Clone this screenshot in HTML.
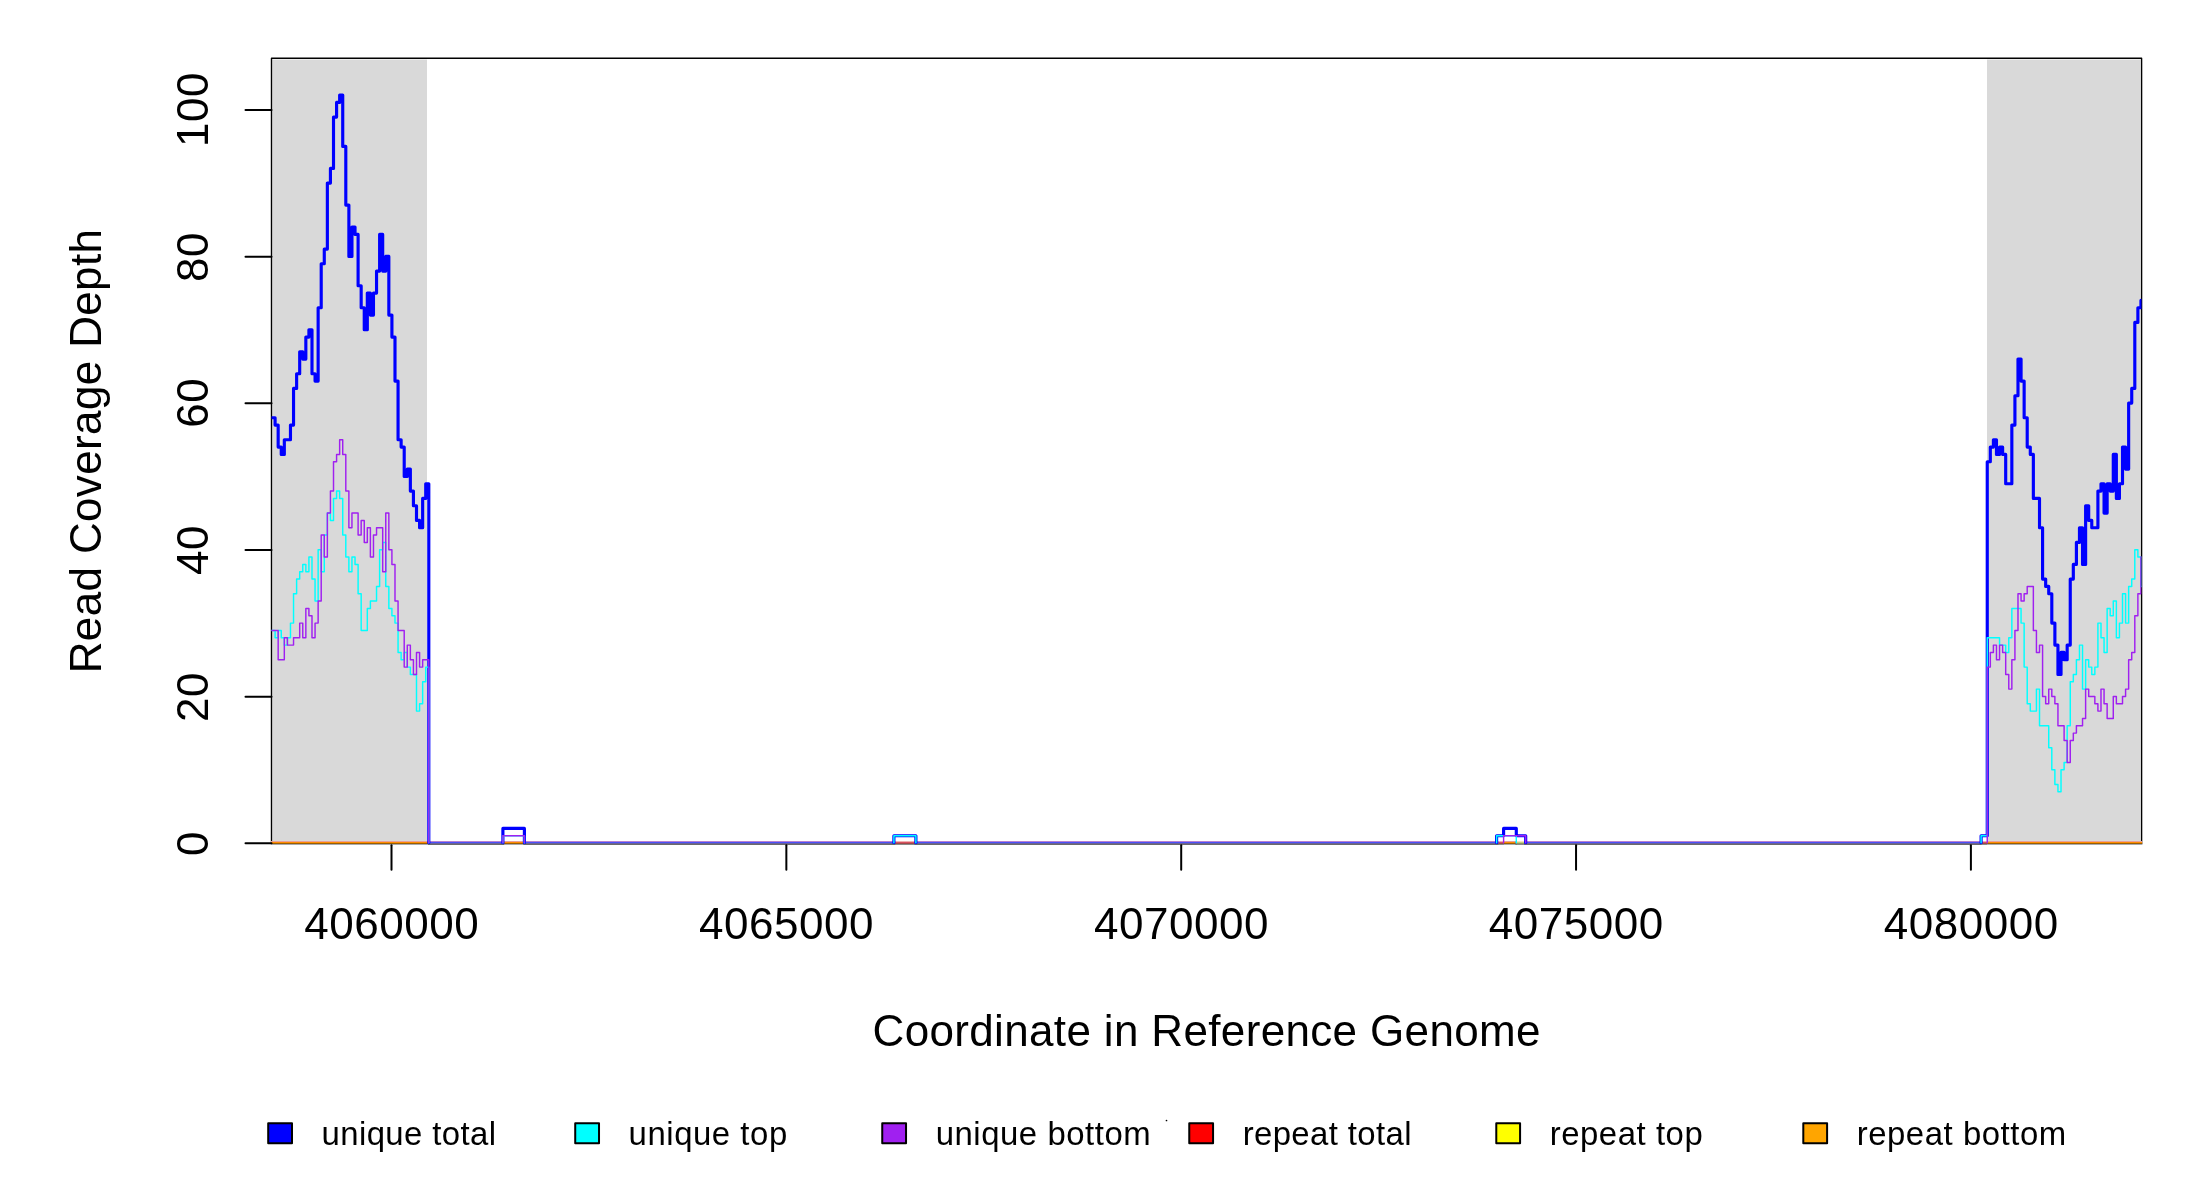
<!DOCTYPE html><html><head><meta charset="utf-8"><style>html,body{margin:0;padding:0;background:#fff;}svg{display:block;}text{font-family:"Liberation Sans",sans-serif;fill:#000;}.t{filter:grayscale(1);}</style></head><body>
<svg width="2200" height="1200" viewBox="0 0 2200 1200">
<rect width="2200" height="1200" fill="#fff"/>
<rect x="272.5" y="59.5" width="154.5" height="781.5" fill="#D9D9D9"/>
<rect x="1987" y="59.5" width="153.5" height="781.5" fill="#D9D9D9"/>
<path d="M271.5 844.2V58.3H2141.6V844.2" fill="none" stroke="#000" stroke-width="1.4" stroke-linejoin="round"/>
<rect x="272.50" y="841" width="1868.50" height="1" fill="#B880D0"/>
<rect x="272.50" y="842" width="1868.50" height="1" fill="#4A50F8"/>
<rect x="272.50" y="843" width="1868.50" height="1" fill="#6A6098"/>
<rect x="272.50" y="844" width="1868.50" height="1" fill="#6A6A6A"/>
<rect x="271.00" y="841" width="157.00" height="1" fill="#E8A098"/>
<rect x="271.00" y="842" width="157.00" height="1" fill="#FF8C00"/>
<rect x="271.00" y="843" width="157.00" height="1" fill="#9C5E00"/>
<rect x="271.00" y="844" width="157.00" height="1" fill="#A8AAAF"/>
<rect x="1987.00" y="841" width="155.20" height="1" fill="#E8A098"/>
<rect x="1987.00" y="842" width="155.20" height="1" fill="#FF8C00"/>
<rect x="1987.00" y="843" width="155.20" height="1" fill="#9C5E00"/>
<rect x="1987.00" y="844" width="155.20" height="1" fill="#A8AAAF"/>
<rect x="1981.50" y="841" width="5.50" height="1" fill="#F0B0B0"/>
<rect x="1981.50" y="842" width="5.50" height="1" fill="#D85060"/>
<rect x="1981.50" y="843" width="5.50" height="1" fill="#A04848"/>
<rect x="1981.50" y="844" width="5.50" height="1" fill="#8A8A8A"/>
<rect x="504.20" y="841" width="19.10" height="1" fill="#E8A098"/>
<rect x="504.20" y="842" width="19.10" height="1" fill="#FF8C00"/>
<rect x="504.20" y="843" width="19.10" height="1" fill="#9C5E00"/>
<rect x="504.20" y="844" width="19.10" height="1" fill="#A8AAAF"/>
<rect x="895.30" y="841" width="19.10" height="1" fill="#F0B0B0"/>
<rect x="895.30" y="842" width="19.10" height="1" fill="#D85060"/>
<rect x="895.30" y="843" width="19.10" height="1" fill="#A04848"/>
<rect x="895.30" y="844" width="19.10" height="1" fill="#8A8A8A"/>
<rect x="1498.50" y="841" width="5.10" height="1" fill="#F0B0B0"/>
<rect x="1498.50" y="842" width="5.10" height="1" fill="#D85060"/>
<rect x="1498.50" y="843" width="5.10" height="1" fill="#A04848"/>
<rect x="1498.50" y="844" width="5.10" height="1" fill="#8A8A8A"/>
<rect x="1503.60" y="841" width="11.90" height="1" fill="#E8A098"/>
<rect x="1503.60" y="842" width="11.90" height="1" fill="#FF8C00"/>
<rect x="1503.60" y="843" width="11.90" height="1" fill="#9C5E00"/>
<rect x="1503.60" y="844" width="11.90" height="1" fill="#A8AAAF"/>
<rect x="1516.50" y="841" width="7.50" height="1" fill="#F8E0C0"/>
<rect x="1516.50" y="842" width="7.50" height="1" fill="#C0D080"/>
<rect x="1516.50" y="843" width="7.50" height="1" fill="#909860"/>
<rect x="1516.50" y="844" width="7.50" height="1" fill="#8A8A8A"/>
<defs><clipPath id="pc"><rect x="271.5" y="58.5" width="1870" height="786"/></clipPath></defs>
<g clip-path="url(#pc)" fill="none" stroke-linejoin="round" stroke-linecap="round">
<path d="M271.50 417.76H275.10V425.09H278.17V447.09H281.25V454.42H284.32V439.76H287.40V439.76H290.47V425.09H293.54V388.42H296.62V373.76H299.69V351.76H302.77V359.09H305.84V337.09H308.91V329.75H311.99V373.76H315.06V381.09H318.14V307.75H321.21V263.75H324.28V249.09H327.36V183.09H330.43V168.42H333.51V117.08H336.58V102.42H339.65V95.08H342.73V146.42H345.80V205.09H348.88V256.42H351.95V227.09H355.02V234.42H358.10V285.75H361.17V307.75H364.25V329.75H367.32V293.09H370.39V315.09H373.47V293.09H376.54V271.09H379.62V234.42H382.69V271.09H385.76V256.42H388.84V315.09H391.91V337.09H394.99V381.09H398.06V439.76H401.13V447.09H404.21V476.43H407.28V469.09H410.36V491.09H413.43V505.76H416.50V520.43H419.58V527.76H422.65V498.43H425.73V483.76H428.80V842.70M502.90 842.70V828.43H524.40V842.70M893.90 842.70V835.77H915.90V842.70M1496.60 842.70V835.77H1503.60V828.43H1516.30V835.77H1525.70V842.70M1981.10 842.70V835.77H1987.25V461.76H1990.32V447.09H1993.40V439.76H1996.47V454.42H1999.55V447.09H2002.62V454.42H2005.69V483.76H2008.77V483.76H2011.84V425.09H2014.92V395.76H2017.99V359.09H2021.06V381.09H2024.14V417.76H2027.21V447.09H2030.29V454.42H2033.36V498.43H2036.43V498.43H2039.51V527.76H2042.58V579.09H2045.66V586.43H2048.73V593.76H2051.80V623.10H2054.88V645.10H2057.95V674.43H2061.03V652.43H2064.10V659.76H2067.17V645.10H2070.25V579.09H2073.32V564.43H2076.40V542.43H2079.47V527.76H2082.54V564.43H2085.62V505.76H2088.69V520.43H2091.77V527.76H2094.84V527.76H2097.91V491.09H2100.99V483.76H2104.06V513.09H2107.14V483.76H2110.21V491.09H2113.28V454.42H2116.36V498.43H2119.43V483.76H2122.51V447.09H2125.58V469.09H2128.65V403.09H2131.73V388.42H2134.80V322.42H2137.88V307.75H2140.95V300.42H2141.60" stroke="#0000FF" stroke-width="3.15"/>
<path d="M271.50 630.43H275.10V637.76H278.17V630.43H281.25V637.76H284.32V645.10H287.40V637.76H290.47V623.10H293.54V593.76H296.62V579.09H299.69V571.76H302.77V564.43H305.84V571.76H308.91V557.09H311.99V579.09H315.06V601.09H318.14V549.76H321.21V571.76H324.28V535.09H327.36V513.09H330.43V520.43H333.51V498.43H336.58V491.09H339.65V498.43H342.73V535.09H345.80V557.09H348.88V571.76H351.95V557.09H355.02V564.43H358.10V593.76H361.17V630.43H364.25V630.43H367.32V608.43H370.39V601.09H373.47V601.09H376.54V586.43H379.62V549.76H382.69V542.43H385.76V586.43H388.84V608.43H391.91V615.76H394.99V623.10H398.06V652.43H401.13V659.76H404.21V652.43H407.28V667.10H410.36V674.43H413.43V674.43H416.50V711.10H419.58V703.76H422.65V681.76H425.73V667.10H428.80V842.70M502.90 842.70V835.77H524.40V842.70M893.90 842.70V835.77H915.90V842.70M1496.60 842.70V835.77H1516.30V842.70M1981.10 842.70V835.77H1987.25V637.76H1990.32V637.76H1993.40V637.76H1996.47V637.76H1999.55V645.10H2002.62V645.10H2005.69V652.43H2008.77V637.76H2011.84V608.43H2014.92V608.43H2017.99V608.43H2021.06V623.10H2024.14V667.10H2027.21V703.76H2030.29V711.10H2033.36V711.10H2036.43V689.10H2039.51V725.76H2042.58V725.76H2045.66V725.76H2048.73V747.76H2051.80V769.76H2054.88V784.43H2057.95V791.77H2061.03V769.76H2064.10V762.43H2067.17V725.76H2070.25V681.76H2073.32V674.43H2076.40V659.76H2079.47V645.10H2082.54V689.10H2085.62V659.76H2088.69V667.10H2091.77V674.43H2094.84V667.10H2097.91V623.10H2100.99V637.76H2104.06V652.43H2107.14V608.43H2110.21V615.76H2113.28V601.09H2116.36V637.76H2119.43V623.10H2122.51V593.76H2125.58V623.10H2128.65V586.43H2131.73V579.09H2134.80V549.76H2137.88V557.09H2140.95V586.43H2141.60" stroke="#00FFFF" stroke-width="1.45"/>
<path d="M271.50 630.43H275.10V630.43H278.17V659.76H281.25V659.76H284.32V637.76H287.40V645.10H290.47V645.10H293.54V637.76H296.62V637.76H299.69V623.10H302.77V637.76H305.84V608.43H308.91V615.76H311.99V637.76H315.06V623.10H318.14V601.09H321.21V535.09H324.28V557.09H327.36V513.09H330.43V491.09H333.51V461.76H336.58V454.42H339.65V439.76H342.73V454.42H345.80V491.09H348.88V527.76H351.95V513.09H355.02V513.09H358.10V535.09H361.17V520.43H364.25V542.43H367.32V527.76H370.39V557.09H373.47V535.09H376.54V527.76H379.62V527.76H382.69V571.76H385.76V513.09H388.84V549.76H391.91V564.43H394.99V601.09H398.06V630.43H401.13V630.43H404.21V667.10H407.28V645.10H410.36V659.76H413.43V674.43H416.50V652.43H419.58V667.10H422.65V659.76H425.73V659.76H428.80V842.70M502.90 842.70V835.77H524.40V842.70M1503.60 842.70V835.77H1525.70V842.70M1987.25 842.70V667.10H1990.32V652.43H1993.40V645.10H1996.47V659.76H1999.55V645.10H2002.62V652.43H2005.69V674.43H2008.77V689.10H2011.84V659.76H2014.92V630.43H2017.99V593.76H2021.06V601.09H2024.14V593.76H2027.21V586.43H2030.29V586.43H2033.36V630.43H2036.43V652.43H2039.51V645.10H2042.58V696.43H2045.66V703.76H2048.73V689.10H2051.80V696.43H2054.88V703.76H2057.95V725.76H2061.03V725.76H2064.10V740.43H2067.17V762.43H2070.25V740.43H2073.32V733.10H2076.40V725.76H2079.47V725.76H2082.54V718.43H2085.62V689.10H2088.69V696.43H2091.77V696.43H2094.84V703.76H2097.91V711.10H2100.99V689.10H2104.06V703.76H2107.14V718.43H2110.21V718.43H2113.28V696.43H2116.36V703.76H2119.43V703.76H2122.51V696.43H2125.58V689.10H2128.65V659.76H2131.73V652.43H2134.80V615.76H2137.88V593.76H2140.95V557.09H2141.60" stroke="#A020F0" stroke-width="1.45"/>
</g>
<line x1="391.50" y1="845.2" x2="391.50" y2="869.7" stroke="#000" stroke-width="2" stroke-linecap="round"/>
<text class="t" x="391.75" y="939" font-size="44" letter-spacing="0.53" text-anchor="middle">4060000</text>
<line x1="786.35" y1="845.2" x2="786.35" y2="869.7" stroke="#000" stroke-width="2" stroke-linecap="round"/>
<text class="t" x="786.60" y="939" font-size="44" letter-spacing="0.53" text-anchor="middle">4065000</text>
<line x1="1181.20" y1="845.2" x2="1181.20" y2="869.7" stroke="#000" stroke-width="2" stroke-linecap="round"/>
<text class="t" x="1181.45" y="939" font-size="44" letter-spacing="0.53" text-anchor="middle">4070000</text>
<line x1="1576.05" y1="845.2" x2="1576.05" y2="869.7" stroke="#000" stroke-width="2" stroke-linecap="round"/>
<text class="t" x="1576.30" y="939" font-size="44" letter-spacing="0.53" text-anchor="middle">4075000</text>
<line x1="1970.90" y1="845.2" x2="1970.90" y2="869.7" stroke="#000" stroke-width="2" stroke-linecap="round"/>
<text class="t" x="1971.15" y="939" font-size="44" letter-spacing="0.53" text-anchor="middle">4080000</text>
<line x1="245.5" y1="843.35" x2="271.5" y2="843.35" stroke="#000" stroke-width="2" stroke-linecap="round"/>
<text class="t" transform="translate(208,843.55) rotate(-90)" font-size="44" letter-spacing="0.53" text-anchor="middle">0</text>
<line x1="245.5" y1="696.68" x2="271.5" y2="696.68" stroke="#000" stroke-width="2" stroke-linecap="round"/>
<text class="t" transform="translate(208,696.98) rotate(-90)" font-size="44" letter-spacing="0.53" text-anchor="middle">20</text>
<line x1="245.5" y1="550.01" x2="271.5" y2="550.01" stroke="#000" stroke-width="2" stroke-linecap="round"/>
<text class="t" transform="translate(208,549.91) rotate(-90)" font-size="44" letter-spacing="0.53" text-anchor="middle">40</text>
<line x1="245.5" y1="403.34" x2="271.5" y2="403.34" stroke="#000" stroke-width="2" stroke-linecap="round"/>
<text class="t" transform="translate(208,402.84) rotate(-90)" font-size="44" letter-spacing="0.53" text-anchor="middle">60</text>
<line x1="245.5" y1="256.67" x2="271.5" y2="256.67" stroke="#000" stroke-width="2" stroke-linecap="round"/>
<text class="t" transform="translate(208,256.97) rotate(-90)" font-size="44" letter-spacing="0.53" text-anchor="middle">80</text>
<line x1="245.5" y1="110.00" x2="271.5" y2="110.00" stroke="#000" stroke-width="2" stroke-linecap="round"/>
<text class="t" transform="translate(208,109.60) rotate(-90)" font-size="44" letter-spacing="0.53" text-anchor="middle">100</text>
<text class="t" transform="translate(101,451) rotate(-90)" font-size="44" letter-spacing="0.36" text-anchor="middle">Read Coverage Depth</text>
<text class="t" x="1206.7" y="1046" font-size="44" letter-spacing="0.345" text-anchor="middle">Coordinate in Reference Genome</text>
<rect x="268.20" y="1123.2" width="23.8" height="20" fill="#0000FF" stroke="#000" stroke-width="2" stroke-linejoin="round"/>
<text class="t" x="321.60" y="1145" font-size="32.9" letter-spacing="0.39">unique total</text>
<rect x="575.22" y="1123.2" width="23.8" height="20" fill="#00FFFF" stroke="#000" stroke-width="2" stroke-linejoin="round"/>
<text class="t" x="628.62" y="1145" font-size="32.9" letter-spacing="0.55">unique top</text>
<rect x="882.24" y="1123.2" width="23.8" height="20" fill="#A020F0" stroke="#000" stroke-width="2" stroke-linejoin="round"/>
<text class="t" x="935.64" y="1145" font-size="32.9" letter-spacing="0.55">unique bottom</text>
<rect x="1189.26" y="1123.2" width="23.8" height="20" fill="#FF0000" stroke="#000" stroke-width="2" stroke-linejoin="round"/>
<text class="t" x="1242.66" y="1145" font-size="32.9" letter-spacing="0.39">repeat total</text>
<rect x="1496.28" y="1123.2" width="23.8" height="20" fill="#FFFF00" stroke="#000" stroke-width="2" stroke-linejoin="round"/>
<text class="t" x="1549.68" y="1145" font-size="32.9" letter-spacing="0.55">repeat top</text>
<rect x="1803.30" y="1123.2" width="23.8" height="20" fill="#FFA500" stroke="#000" stroke-width="2" stroke-linejoin="round"/>
<text class="t" x="1856.70" y="1145" font-size="32.9" letter-spacing="0.55">repeat bottom</text>
<circle cx="1166.5" cy="1120.5" r="0.85" fill="#000"/>
</svg></body></html>
